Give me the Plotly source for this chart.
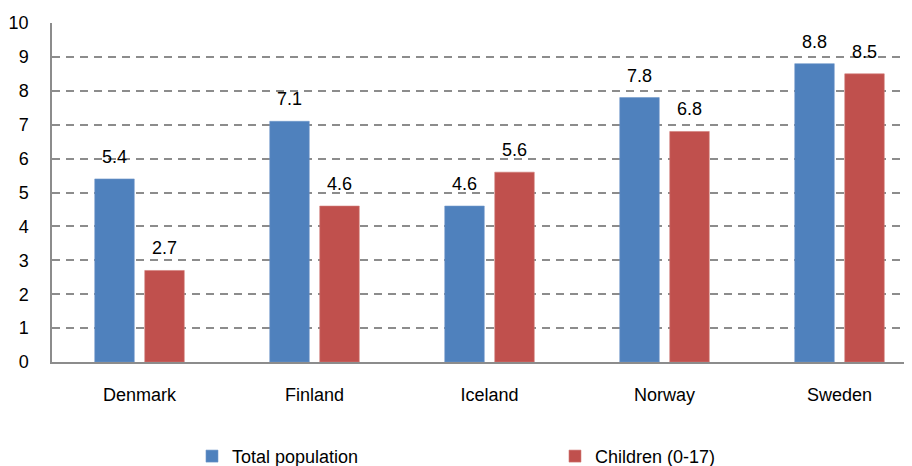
import plotly.graph_objects as go

countries = ["Denmark", "Finland", "Iceland", "Norway", "Sweden"]
total_population = [5.4, 7.1, 4.6, 7.8, 8.8]
children = [2.7, 4.6, 5.6, 6.8, 8.5]

BLUE = "#4F81BD"
RED = "#C0504D"
FONT = "Liberation Sans, Arial, sans-serif"
GRID = "#8c8c8c"
FS = 18

fig = go.Figure()
fig.add_trace(go.Bar(x=countries, y=total_population, name="Total population",
                     marker=dict(color=BLUE, line=dict(color="#6f97c9", width=0.6))))
fig.add_trace(go.Bar(x=countries, y=children, name="Children (0-17)",
                     marker=dict(color=RED, line=dict(color="#d27a77", width=0.6))))

# value labels above each bar
for series, shift in ((total_population, -25), (children, 25)):
    for c, v in zip(countries, series):
        fig.add_annotation(x=c, y=v, text=f"{v:.1f}", showarrow=False,
                           xshift=shift, yshift=22, yanchor="middle",
                           font=dict(size=FS, color="#000000", family=FONT))

fig.update_yaxes(range=[0, 10], dtick=1, showgrid=True, gridcolor=GRID,
                 griddash="8px,6px", gridwidth=1.5, showline=True, linecolor="#8c8c8c",
                 linewidth=1.5, zeroline=False, ticks="", ticklabelstandoff=18,
                 automargin=False,
                 tickfont=dict(size=FS, color="#000000", family=FONT))
fig.update_xaxes(showline=True, linecolor="#8c8c8c", linewidth=1.5, ticks="",
                 ticklabelstandoff=16, automargin=False,
                 tickfont=dict(size=FS, color="#000000", family=FONT))

# page body has an 8px margin; the plot area runs slightly past the right edge,
# as in the (cropped) original
fig.update_layout(
    width=919, height=458,
    barmode="group", bargap=0.4286, bargroupgap=0.21,
    plot_bgcolor="white", paper_bgcolor="white",
    margin=dict(l=44, r=0, t=15, b=104, autoexpand=False),
    font=dict(family=FONT, size=FS, color="#000000"),
    legend=dict(orientation="h", xref="container", yref="paper",
                x=0.2002, xanchor="left", y=-0.333, yanchor="bottom",
                entrywidth=318, itemwidth=30,
                font=dict(size=FS, family=FONT, color="#000000")),
)

fig.write_html("out.html")
